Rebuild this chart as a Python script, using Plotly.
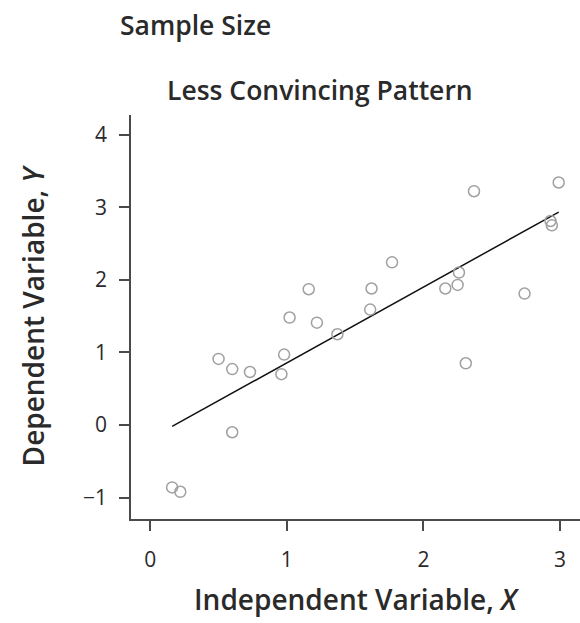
import numpy as np
import plotly.graph_objects as go

# Data
x_vals = [0.16, 0.22, 0.50, 0.60, 0.60, 0.73, 0.96, 0.98, 1.02, 1.16, 1.22, 1.37,
          1.61, 1.62, 1.77, 2.16, 2.25, 2.26, 2.31, 2.37, 2.74, 2.93, 2.94, 2.99]
y_vals = [-0.86, -0.92, 0.91, 0.77, -0.10, 0.73, 0.70, 0.97, 1.48, 1.87, 1.41, 1.25,
          1.59, 1.88, 2.24, 1.88, 1.93, 2.10, 0.85, 3.22, 1.81, 2.81, 2.75, 3.34]
x_ticks = [0, 1, 2, 3]
y_ticks = [-1, 0, 1, 2, 3, 4]

title_text = "Less Convincing Pattern"
header_text = "Sample Size"

# Fitted trend line from the data
slope, intercept = np.polyfit(x_vals, y_vals, 1)
line_x = [min(x_vals), max(x_vals)]
line_y = [intercept + slope * v for v in line_x]

FONT = "Open Sans"
TXT = "#2a2a2a"
AX = "#4a4a4a"

W, H = 580, 623
ML, MR, MT, MB = 131, 0, 115, 104
pw = W - ML - MR
ph = H - MT - MB

fig = go.Figure()
fig.add_trace(go.Scatter(
    x=line_x, y=line_y, mode="lines",
    line=dict(color="#111111", width=1.5), showlegend=False, hoverinfo="skip"))
fig.add_trace(go.Scatter(
    x=x_vals, y=y_vals, mode="markers",
    marker=dict(symbol="circle-open", size=11, color="#a0a0a0", line=dict(width=1.5)),
    showlegend=False))

fig.update_layout(
    width=W, height=H,
    margin=dict(l=ML, r=MR, t=MT, b=MB),
    plot_bgcolor="white", paper_bgcolor="white",
    font=dict(family=FONT, color=TXT),
    xaxis=dict(
        range=[-0.141, 3.146], tickvals=x_ticks, ticks="outside", ticklen=10,
        tickwidth=1.5, tickcolor=AX, showline=True, linecolor=AX, linewidth=1.5,
        showgrid=False, zeroline=False, tickfont=dict(size=21, color=TXT),
        ticklabelstandoff=11, automargin=False,
        title=dict(text="Independent Variable, <i>X</i>",
                   font=dict(size=28, color=TXT, weight=600), standoff=18),
    ),
    yaxis=dict(
        range=[-1.295, 4.27], tickvals=y_ticks, ticks="outside", ticklen=10,
        tickwidth=1.5, tickcolor=AX, showline=True, linecolor=AX, linewidth=1.5,
        showgrid=False, zeroline=False, tickfont=dict(size=21, color=TXT),
        ticklabelstandoff=8, automargin=False,
        title=dict(text="Dependent Variable, <i>Y</i>",
                   font=dict(size=28, color=TXT, weight=600), standoff=30),
    ),
    annotations=[
        dict(text=header_text, xref="paper", yref="paper", showarrow=False,
             x=(118 - ML) / pw, y=(H - MB - 25) / ph, xanchor="left", yanchor="middle",
             font=dict(size=26.5, color=TXT, weight=600)),
        dict(text=title_text, xref="paper", yref="paper", showarrow=False,
             x=(320 - ML) / pw, y=(H - MB - 90) / ph, xanchor="center", yanchor="middle",
             font=dict(size=26.5, color=TXT, weight=600)),
    ],
)

fig.write_html("out.html", config={"displayModeBar": False},
               post_script="document.body.style.margin='0';")
